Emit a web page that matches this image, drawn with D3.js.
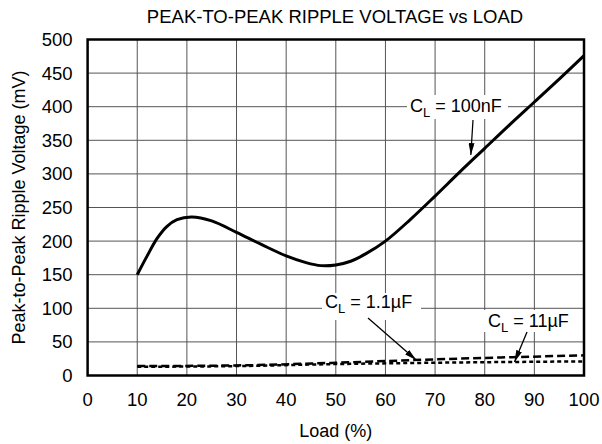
<!DOCTYPE html>
<html>
<head>
<meta charset="utf-8">
<script src="https://cdn.jsdelivr.net/npm/d3@7"></script>
<style>
  body { margin: 0; background: #fff; }
  text { font-family: "Liberation Sans", Arial, sans-serif; fill: #000; }
</style>
</head>
<body>
<div id="chart"></div>
<script>
// data
var loadTicks = [0, 10, 20, 30, 40, 50, 60, 70, 80, 90, 100];
var rippleTicks = [0, 50, 100, 150, 200, 250, 300, 350, 400, 450, 500];

var load100nF   = [10, 12, 14, 16, 18, 21, 25, 30, 35, 40, 44, 47, 50, 53, 56, 60, 65, 70, 75, 80, 85, 90, 95, 100];
var ripple100nF = [150, 178, 204, 222, 232, 236, 230, 213, 195, 178, 168, 163.5, 164.5, 170, 181, 200, 232, 267, 303, 338, 373, 407, 441, 476];

var load1u1   = [10, 30, 50, 70, 100];
var ripple1u1 = [14, 15, 19, 24, 30];

var load11u   = [10, 30, 50, 70, 100];
var ripple11u = [13, 14, 17, 19, 21];

var W = 602, H = 444;
var margin = {left: 87.6, right: 602 - 584, top: 39.5, bottom: 444 - 375.5};

var svg = d3.select('#chart').append('svg')
  .attr('width', W)
  .attr('height', H);

var x = d3.scaleLinear().domain([0, 100]).range([margin.left, W - margin.right]);
var y = d3.scaleLinear().domain([0, 500]).range([H - margin.bottom, margin.top]);

// grid
svg.append('g').selectAll('line.v')
  .data(loadTicks.slice(1, -1))
  .enter().append('line')
  .attr('x1', d => x(d)).attr('x2', d => x(d))
  .attr('y1', y(0)).attr('y2', y(500))
  .style('stroke', '#555').style('stroke-width', 1);

svg.append('g').selectAll('line.h')
  .data(rippleTicks.slice(1, -1))
  .enter().append('line')
  .attr('x1', x(0)).attr('x2', x(100))
  .attr('y1', d => y(d)).attr('y2', d => y(d))
  .style('stroke', '#555').style('stroke-width', 1);

// tick labels
svg.append('g').selectAll('text')
  .data(loadTicks)
  .enter().append('text')
  .attr('x', d => x(d))
  .attr('y', y(0) + 30)
  .attr('text-anchor', 'middle')
  .style('font-size', '18.5px')
  .text(d => d);

svg.append('g').selectAll('text')
  .data(rippleTicks)
  .enter().append('text')
  .attr('x', x(0) - 15)
  .attr('y', d => y(d) + 6.5)
  .attr('text-anchor', 'end')
  .style('font-size', '18.5px')
  .text(d => d);

// titles
svg.append('text')
  .attr('x', 335).attr('y', 23)
  .attr('text-anchor', 'middle')
  .style('font-size', '18.5px')
  .text('PEAK-TO-PEAK RIPPLE VOLTAGE vs LOAD');

svg.append('text')
  .attr('x', (x(0) + x(100)) / 2).attr('y', 437)
  .attr('text-anchor', 'middle')
  .style('font-size', '18px')
  .text('Load (%)');

svg.append('text')
  .attr('transform', 'translate(25,' + (y(250)) + ') rotate(-90)')
  .attr('text-anchor', 'middle')
  .style('font-size', '18px')
  .text('Peak-to-Peak Ripple Voltage (mV)');

// curves
var line = d3.line()
  .x(d => x(d[0]))
  .y(d => y(d[1]))
  .curve(d3.curveCatmullRom);

svg.append('path')
  .datum(d3.zip(load100nF, ripple100nF))
  .attr('d', line)
  .style('fill', 'none').style('stroke', '#000').style('stroke-width', 3);

svg.append('path')
  .datum(d3.zip(load1u1, ripple1u1))
  .attr('d', line.curve(d3.curveMonotoneX))
  .style('fill', 'none').style('stroke', '#000').style('stroke-width', 2.5)
  .style('stroke-dasharray', '8,4');

svg.append('path')
  .datum(d3.zip(load11u, ripple11u))
  .attr('d', line.curve(d3.curveMonotoneX))
  .style('fill', 'none').style('stroke', '#000').style('stroke-width', 2.5)
  .style('stroke-dasharray', '4,3');

// frame
svg.append('rect')
  .attr('x', x(0)).attr('y', y(500))
  .attr('width', x(100) - x(0)).attr('height', y(0) - y(500))
  .style('fill', 'none').style('stroke', '#000').style('stroke-width', 2.5);

// annotations
svg.append('defs').append('marker')
  .attr('id', 'arrow')
  .attr('viewBox', '0 0 12 6')
  .attr('refX', 12).attr('refY', 3)
  .attr('markerWidth', 12).attr('markerHeight', 6)
  .attr('markerUnits', 'userSpaceOnUse')
  .attr('orient', 'auto')
  .append('path')
  .attr('d', 'M0,0 L12,3 L0,6 Z')
  .style('fill', '#000');

var notes = [
  {cap: '100nF', tx: 410, ty: 112, box: [407, 95, 101, 24], from: [473, 120], at: [77.2, 328]},
  {cap: '1.1µF', tx: 325, ty: 308, box: [322, 293, 99, 27], from: [368, 318], at: [66.2, 23]},
  {cap: '11µF',  tx: 488, ty: 327, box: [484, 310, 92, 22], from: [527, 332], at: [86, 20]}
];

notes.forEach(function(n) {
  svg.append('rect')
    .attr('x', n.box[0]).attr('y', n.box[1])
    .attr('width', n.box[2]).attr('height', n.box[3])
    .style('fill', '#fff');
  var t = svg.append('text')
    .attr('x', n.tx).attr('y', n.ty)
    .style('font-size', '18px');
  t.append('tspan').text('C');
  t.append('tspan').attr('dy', 5).style('font-size', '13px').text('L');
  t.append('tspan').attr('dy', -5).text(' = ' + n.cap);
  svg.append('line')
    .attr('x1', n.from[0]).attr('y1', n.from[1])
    .attr('x2', x(n.at[0])).attr('y2', y(n.at[1]))
    .style('stroke', '#000').style('stroke-width', 1.3)
    .attr('marker-end', 'url(#arrow)');
});
</script>
</body>
</html>
